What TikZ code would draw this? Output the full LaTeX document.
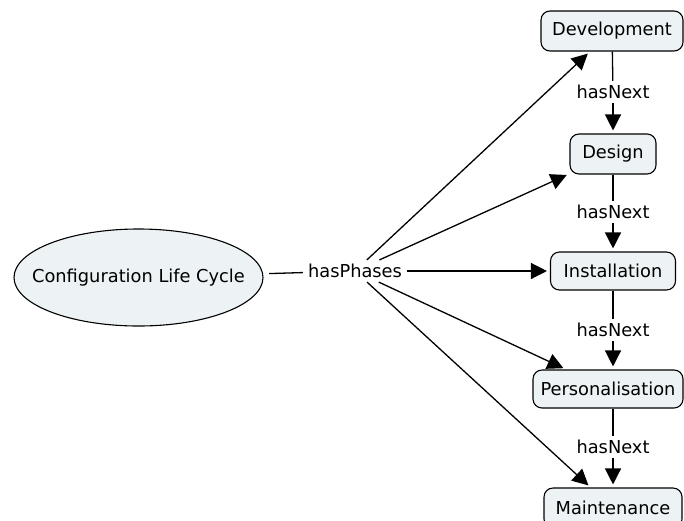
\documentclass[tikz,border=0pt]{standalone}
\usepackage{fontspec}
\setmainfont{DejaVu Sans}
\usetikzlibrary{arrows.meta,shapes.geometric}
\definecolor{boxfill}{HTML}{EDF3F5}
\tikzset{
  x=1pt, y=1pt,
  txt/.style={font=\fontsize{17.8}{21}\selectfont, text=black},
  concept/.style={txt, draw=black, line width=1.1pt, fill=boxfill, rounded corners=9pt,
    minimum height=40pt, inner xsep=7pt},
  link/.style={txt, fill=white, inner xsep=5pt, inner ysep=4pt},
  conn/.style={line width=1.3pt, draw=black},
  arr/.style={conn, -{Triangle[length=16pt,width=16pt]}, shorten >=3pt},
}
\begin{document}
\begin{tikzpicture}
\useasboundingbox (0,0) rectangle (684,-520);
% main concept
\node[txt, ellipse, draw=black, line width=1.1pt, fill=boxfill,
      minimum width=249pt, minimum height=97pt, inner xsep=-20pt, inner ysep=0pt] (clc) at (138.5,-277.5) {Configuration Life Cycle};
\node[link] (phases) at (355,-271) {hasPhases};
% phases
\node[concept, minimum width=142pt] (dev)  at (612,-31)  {Development};
\node[concept, minimum width=86pt]  (des)  at (613,-154) {Design};
\node[concept, minimum width=125pt, minimum height=38pt] (inst) at (613,-271) {Installation};
\node[concept, minimum width=150pt, minimum height=38pt] (pers) at (608,-389) {Personalisation};
\node[concept, minimum width=138pt] (main) at (613,-508) {Maintenance};
% sequence labels
\node[link] (n1) at (613,-92)  {hasNext};
\node[link] (n2) at (613,-212) {hasNext};
\node[link] (n3) at (613,-330) {hasNext};
\node[link] (n4) at (613,-447) {hasNext};
% connectors
\draw[conn, shorten <=6pt] (clc) -- (phases);
\draw[arr] (phases) -- (dev);
\draw[arr] (phases) -- (des);
\draw[arr] (phases) -- (inst);
\draw[arr] (phases) -- (pers);
\draw[arr] (phases) -- (main);
\draw[conn] (dev) -- (n1);  \draw[arr] (n1) -- (des);
\draw[conn] (des) -- (n2);  \draw[arr] (n2) -- (inst);
\draw[conn] (inst) -- (n3); \draw[arr] (n3) -- (pers.north -| n3);
\draw[conn] (pers.south -| n4) -- (n4); \draw[arr] (n4) -- (main);
\end{tikzpicture}
\end{document}
